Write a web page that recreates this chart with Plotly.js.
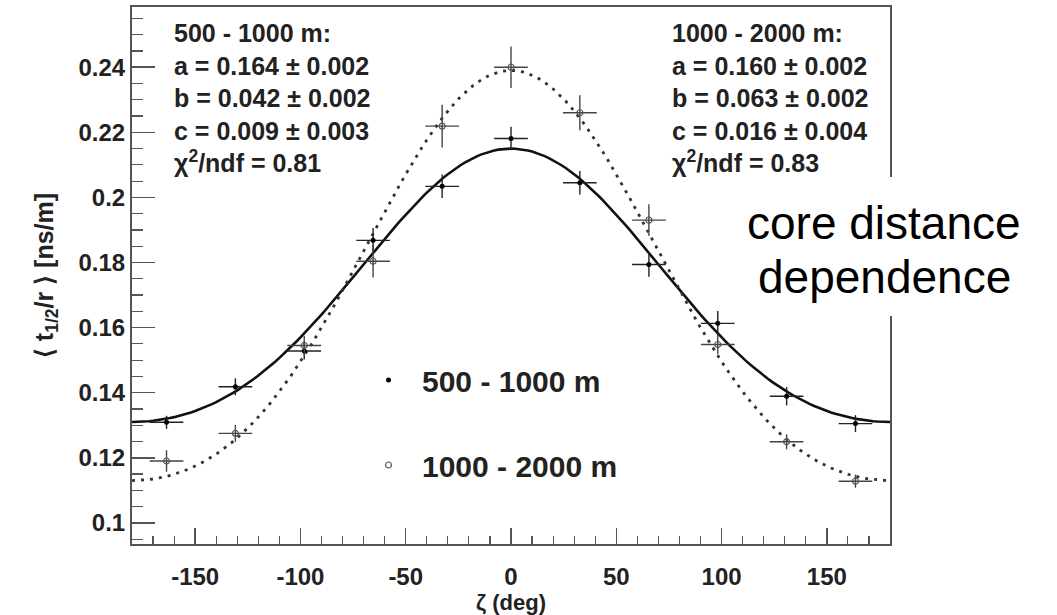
<!DOCTYPE html>
<html><head><meta charset="utf-8">
<script src="https://cdn.plot.ly/plotly-3.0.1.min.js"></script>
<style>html,body{margin:0;padding:0;background:#fff}#chart{width:1057px;height:615px}</style>
</head><body><div id="chart"></div>
<script>
// zeta bin centres (deg)
const zeta = [-163.6, -130.9, -98.2, -65.5, -32.7, 0, 32.7, 65.5, 98.2, 130.9, 163.6];
const zetaErr = [8, 8, 8, 8, 8, 8, 8, 8, 8, 8, 8];
// 500 - 1000 m (filled)
const nearVals = [0.1309, 0.1418, 0.1528, 0.1868, 0.2034, 0.2181, 0.2045, 0.1794, 0.1613, 0.1389, 0.1305];
const nearErr  = [0.0020, 0.0026, 0.0026, 0.0038, 0.0036, 0.0036, 0.0036, 0.0038, 0.0038, 0.0028, 0.0026];
// 1000 - 2000 m (open)
const farVals = [0.1190, 0.1275, 0.1545, 0.1804, 0.2219, 0.2400, 0.2260, 0.1930, 0.1548, 0.1249, 0.1128];
const farErr  = [0.0033, 0.0026, 0.0030, 0.0050, 0.0066, 0.0064, 0.0054, 0.0049, 0.0030, 0.0023, 0.0020];
// fit parameters a, b, c  (f = a + b cos z + c cos^2 z)
const nearFit = [0.164, 0.042, 0.009];
const farFit  = [0.160, 0.063, 0.016];
const seriesNames = ['500 - 1000 m', '1000 - 2000 m'];
const xTickVals = [-150, -100, -50, 0, 50, 100, 150];
const xTickText = ['-150', '-100', '-50', '0', '50', '100', '150'];
const yTickVals = [0.1, 0.12, 0.14, 0.16, 0.18, 0.2, 0.22, 0.24];
const yTickText = ['0.1', '0.12', '0.14', '0.16', '0.18', '0.2', '0.22', '0.24'];
const statsNear = ['500 - 1000 m:', 'a = 0.164 ± 0.002', 'b = 0.042 ± 0.002', 'c = 0.009 ± 0.003', 'χ<sup>2</sup>/ndf = 0.81'];
const statsFar  = ['1000 - 2000 m:', 'a = 0.160 ± 0.002', 'b = 0.063 ± 0.002', 'c = 0.016 ± 0.004', 'χ<sup>2</sup>/ndf = 0.83'];
const noteLines = ['core distance', 'dependence'];

const fitX = [];
for (let z = -180; z <= 180; z += 2) fitX.push(z);
function fitCurve(p) {
  return fitX.map(z => { const c = Math.cos(z * Math.PI / 180); return p[0] + p[1] * c + p[2] * c * c; });
}

const FONT = 'Liberation Sans, Arial, Helvetica, sans-serif';
const L = 132, T = 7, W = 758, H = 537;
const px = x => (x - L) / W;
const py = y => (T + H - y) / H;

const traces = [
  { x: fitX, y: fitCurve(nearFit), mode: 'lines', line: { color: '#111', width: 2.6 }, showlegend: false, hoverinfo: 'skip' },
  { x: fitX, y: fitCurve(farFit), mode: 'lines', line: { color: '#333', width: 2.8, dash: '3px,6px' }, showlegend: false, hoverinfo: 'skip' },
  { x: zeta, y: nearVals, name: seriesNames[0], legendgroup: 'a', mode: 'markers',
    marker: { symbol: 'circle', size: 5, color: '#000' },
    error_y: { type: 'data', array: nearErr, color: '#222', thickness: 1.4, width: 0 },
    error_x: { type: 'data', array: zetaErr, color: '#222', thickness: 1.4, width: 0 } },
  { x: zeta, y: farVals, name: seriesNames[1], legendgroup: 'b', mode: 'markers',
    marker: { symbol: 'circle-open', size: 6, color: '#555', line: { width: 1.2 } },
    error_y: { type: 'data', array: farErr, color: '#444', thickness: 1.4, width: 0 },
    error_x: { type: 'data', array: zetaErr, color: '#444', thickness: 1.4, width: 0 } }
];

const axisCommon = {
  showline: true, mirror: true, linecolor: '#555', linewidth: 2,
  showgrid: false, zeroline: false, ticks: 'inside', tickcolor: '#555', tickwidth: 1.5,
  tickfont: { family: FONT, size: 24, weight: 'bold', color: '#222' }, tickmode: 'array'
};

const layout = {
  width: 1057, height: 615,
  margin: { l: L, r: 1057 - L - W, t: T, b: 615 - T - H },
  paper_bgcolor: '#fff', plot_bgcolor: '#fff',
  xaxis: Object.assign({}, axisCommon, {
    range: [-180, 180], tickvals: xTickVals, ticktext: xTickText, ticklen: 16,
    ticklabelstandoff: 10,
    minor: { ticks: 'inside', ticklen: 8, dtick: 10, tick0: 0, tickcolor: '#555', tickwidth: 1.2 },
    title: { text: 'ζ (deg)', font: { family: FONT, size: 22, weight: 'bold', color: '#222' }, standoff: 3 },
    automargin: false
  }),
  yaxis: Object.assign({}, axisCommon, {
    range: [0.0935, 0.2585], tickvals: yTickVals, ticktext: yTickText, ticklen: 23,
    minor: { ticks: 'inside', ticklen: 11, dtick: 0.005, tick0: 0.1, tickcolor: '#555', tickwidth: 1.2 },
    title: { text: '⟨ t<sub>1/2</sub>/r ⟩ [ns/m]', font: { family: FONT, size: 25, weight: 'bold', color: '#222' }, standoff: 18 },
    automargin: false
  }),
  showlegend: true,
  legend: {
    x: px(355), y: py(354), xanchor: 'left', yanchor: 'top',
    bgcolor: 'rgba(0,0,0,0)', borderwidth: 0,
    font: { family: FONT, size: 30, weight: 'bold', color: '#222' },
    traceorder: 'grouped', tracegroupgap: 43, itemwidth: 57
  },
  shapes: [
    { type: 'rect', xref: 'paper', yref: 'paper', x0: px(725), x1: px(1057), y0: py(316), y1: py(177),
      fillcolor: '#fff', line: { width: 0 }, layer: 'above' }
  ],
  annotations: [
    { xref: 'paper', yref: 'paper', x: px(172), y: py(98.5), xanchor: 'left', yanchor: 'middle', align: 'left',
      showarrow: false, text: statsNear.join('<br>'), font: { family: FONT, size: 25, weight: 'bold', color: '#222' } },
    { xref: 'paper', yref: 'paper', x: px(670), y: py(98.5), xanchor: 'left', yanchor: 'middle', align: 'left',
      showarrow: false, text: statsFar.join('<br>'), font: { family: FONT, size: 25, weight: 'bold', color: '#222' } },
    { xref: 'paper', yref: 'paper', x: px(884), y: py(223), xanchor: 'center', yanchor: 'middle',
      showarrow: false, text: noteLines[0], font: { family: FONT, size: 46, color: '#000' } },
    { xref: 'paper', yref: 'paper', x: px(884), y: py(277), xanchor: 'center', yanchor: 'middle',
      showarrow: false, text: noteLines[1], font: { family: FONT, size: 46, color: '#000' } }
  ]
};

Plotly.newPlot('chart', traces, layout, { displayModeBar: false, staticPlot: true });
</script>
</body></html>
